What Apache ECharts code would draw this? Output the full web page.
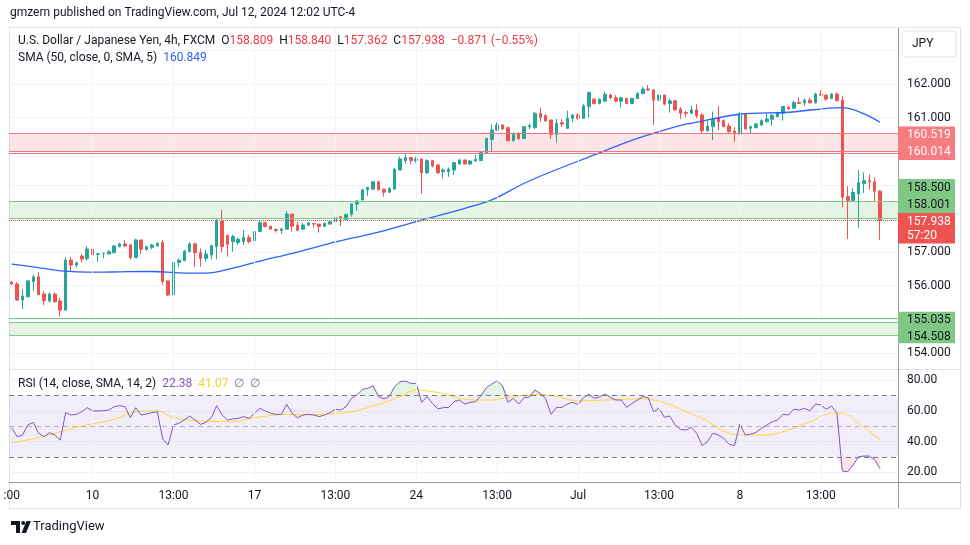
<!DOCTYPE html>
<html><head><meta charset="utf-8">
<script src="https://cdn.jsdelivr.net/npm/echarts@6/dist/echarts.min.js"></script>
<style>html,body{margin:0;padding:0;background:#fff}#c{width:970px;height:545px}</style>
</head><body><div id="c"></div>
<script>
// ---- data ----
const opens = [156.10,156.05,155.57,155.67,156.12,156.26,155.75,155.55,155.75,155.54,
155.27,156.76,156.61,156.88,156.81,157.09,156.93,156.95,156.94,156.98,
157.16,157.24,157.21,156.83,157.36,157.08,157.14,157.18,157.28,156.14,
155.72,156.69,156.74,157.01,157.24,156.98,156.81,156.91,157.16,157.92,
157.49,157.31,157.28,157.31,157.43,157.34,157.61,157.87,157.77,157.67,
157.64,157.68,158.13,157.80,157.68,157.80,157.85,157.83,157.76,157.83,
157.90,158.05,157.97,158.12,158.43,158.55,158.85,158.87,159.09,158.87,
158.78,158.87,159.44,159.72,159.81,159.72,159.77,159.36,159.72,159.59,
159.39,159.39,159.44,159.62,159.74,159.62,159.71,159.72,159.96,160.35,
160.63,160.78,160.70,160.31,160.53,160.38,160.73,160.70,161.13,161.06,
160.93,160.50,160.85,160.68,160.98,161.08,160.98,161.33,161.55,161.42,
161.49,161.67,161.59,161.49,161.57,161.42,161.57,161.72,161.85,161.82,
161.52,161.67,161.42,161.50,161.25,161.15,161.13,161.23,161.08,160.61,
160.73,160.98,160.91,160.75,160.60,160.51,161.11,160.68,160.70,160.78,
160.88,160.95,161.03,161.13,161.31,161.28,161.45,161.44,161.52,161.44,
161.70,161.67,161.57,161.70,161.52,158.65,158.53,158.73,159.04,159.12,
159.09,158.809];
const highs = [156.14,156.10,155.89,156.16,156.32,156.40,155.82,155.80,155.80,155.64,
156.84,156.86,156.71,156.94,157.18,157.16,156.96,156.98,157.06,157.21,
157.28,157.36,157.24,157.39,157.36,157.18,157.24,157.29,157.36,156.14,
156.88,156.81,157.06,157.29,157.28,157.11,157.06,157.21,157.98,158.25,
157.53,157.51,157.43,157.65,157.51,157.66,157.93,157.90,157.78,157.70,
157.70,158.22,158.13,157.90,157.87,157.89,157.85,157.83,157.87,157.92,
158.10,158.08,158.13,158.45,158.55,158.87,158.94,159.11,159.12,158.89,
158.94,159.49,159.84,159.92,159.81,159.84,159.79,159.76,159.74,159.62,
159.49,159.52,159.69,159.76,159.74,159.74,159.89,159.99,160.40,160.80,
160.86,160.81,160.73,160.56,160.56,160.75,160.83,161.16,161.30,161.10,
160.93,160.96,160.95,161.21,161.10,161.13,161.40,161.77,161.59,161.57,
161.77,161.72,161.67,161.62,161.59,161.59,161.75,161.92,161.97,161.85,
161.69,161.69,161.57,161.52,161.31,161.20,161.35,161.40,161.13,160.91,
161.18,161.35,160.95,160.83,160.71,161.15,161.11,160.76,160.85,160.95,
161.13,161.11,161.18,161.35,161.35,161.50,161.60,161.57,161.60,161.74,
161.82,161.67,161.72,161.75,161.64,158.96,158.90,159.44,159.37,159.31,
159.22,158.840];
const lows = [156.02,155.54,155.30,155.65,155.84,155.72,155.42,155.49,155.49,155.08,
155.26,156.42,156.54,156.69,156.74,156.86,156.71,156.81,156.93,156.96,
157.14,157.16,156.78,156.83,156.93,157.04,157.08,157.16,156.02,155.69,
155.72,156.56,156.74,157.01,156.56,156.56,156.71,156.78,156.78,156.99,
156.86,157.01,157.21,157.21,157.26,157.13,157.59,157.73,157.67,157.58,
157.53,157.68,157.61,157.61,157.66,157.77,157.73,157.58,157.74,157.81,
157.90,157.77,157.95,158.05,158.23,158.53,158.67,158.85,158.85,158.65,
158.75,158.87,159.44,159.62,159.62,159.66,158.73,159.32,159.52,159.32,
159.19,159.24,159.29,159.59,159.62,159.59,159.69,159.72,159.92,160.00,
160.60,160.63,160.30,160.30,160.33,160.36,160.66,160.66,160.88,160.88,
160.36,160.25,160.73,160.66,160.86,160.93,160.96,161.01,161.39,161.39,
161.47,161.55,161.47,161.30,161.42,161.40,161.55,161.69,161.79,160.78,
161.49,161.37,161.15,161.21,160.96,161.01,161.11,160.98,160.53,160.58,
160.33,160.63,160.73,160.55,160.28,160.51,160.66,160.51,160.68,160.75,
160.85,160.76,161.01,160.91,161.23,161.26,161.40,161.35,161.42,161.42,
161.64,161.50,161.55,161.50,158.33,157.39,158.50,157.72,158.75,158.85,
158.50,157.362];
const closes = [156.05,155.57,155.69,156.14,156.26,155.73,155.55,155.75,155.52,155.27,
156.76,156.61,156.68,156.79,157.09,156.91,156.95,156.96,157.01,157.18,
157.24,157.18,156.83,157.36,157.08,157.16,157.21,157.26,156.12,155.72,
156.69,156.76,157.03,157.24,156.98,156.81,156.94,157.19,157.93,157.16,
157.23,157.46,157.38,157.43,157.31,157.61,157.87,157.76,157.68,157.64,
157.69,158.13,157.77,157.65,157.80,157.87,157.83,157.76,157.85,157.90,
158.03,158.03,158.12,158.43,158.52,158.85,158.92,159.09,158.85,158.78,
158.89,159.47,159.77,159.81,159.72,159.77,159.36,159.72,159.56,159.36,
159.44,159.47,159.66,159.74,159.62,159.71,159.76,159.96,160.38,160.63,
160.78,160.66,160.31,160.53,160.38,160.73,160.76,161.13,161.01,160.90,
160.50,160.83,160.81,160.98,161.08,160.98,161.35,161.75,161.42,161.55,
161.69,161.59,161.49,161.59,161.42,161.57,161.72,161.85,161.82,161.52,
161.67,161.40,161.50,161.23,161.13,161.13,161.23,161.06,160.61,160.75,
160.96,160.88,160.73,160.58,160.51,161.13,160.66,160.73,160.81,160.91,
160.96,161.06,161.15,161.33,161.26,161.45,161.42,161.52,161.44,161.70,
161.67,161.55,161.70,161.50,158.63,158.53,158.77,159.06,159.12,159.09,
158.81,157.938];
// SMA(50) line, read at selected candles (1-based index)
const smaAt  = [1,5,10,17,21,27,32,37,42,47,53,60,64,69,77,85,90,97,109,117,125,127,136,145,155,162];
const smaVal = [156.64,156.56,156.44,156.40,156.41,156.42,156.38,156.37,156.52,156.73,156.96,157.26,157.41,157.59,157.95,158.30,158.55,159.12,159.89,160.38,160.77,160.83,161.10,161.16,161.30,160.86];
// RSI values per candle
const rsi = [49.0,43.2,44.3,50.8,52.5,45.4,43.2,45.8,44.3,41.0,
58.8,57.3,57.7,59.4,62.0,59.9,59.9,60.1,60.5,62.7,
63.3,62.7,55.5,62.0,57.3,57.9,58.8,59.4,41.7,37.8,
50.8,51.9,54.0,56.6,54.0,51.2,52.5,55.5,63.3,57.3,
54.0,54.7,55.1,56.2,55.1,58.4,61.6,59.9,58.4,57.7,
57.7,64.2,58.4,55.5,57.3,57.7,57.3,56.2,57.3,58.8,
61.0,60.5,62.7,68.1,70.3,73.9,74.6,76.3,69.2,67.7,
69.2,75.7,78.9,79.3,77.8,77.8,65.5,69.2,64.8,61.2,
62.0,62.2,65.9,67.0,64.4,65.5,65.9,69.8,75.0,77.4,
79.4,76.3,65.5,68.1,64.4,68.5,69.0,73.5,71.3,67.7,
57.7,62.2,62.2,64.4,65.5,64.2,68.5,70.7,68.1,69.0,
70.9,68.7,67.0,67.0,62.2,64.8,67.0,69.2,68.5,59.4,
61.6,55.8,56.6,50.8,47.9,47.5,49.3,45.4,37.4,40.0,
45.4,44.3,42.1,38.2,37.4,51.4,44.3,44.9,46.0,48.6,
50.8,52.9,54.0,57.7,57.3,61.0,60.5,61.6,59.9,64.4,
63.8,61.0,63.1,58.4,20.9,20.5,24.8,30.2,30.6,30.6,
28.1,22.38];
// RSI-based SMA, read at selected candles (1-based index)
const rsiMaAt  = [1,5,10,15,20,24,28,31,36,42,46,52,55,61,64,69,73,76,79,81,84,87,90,93,99,102,106,111,118,123,126,129,134,137,141,145,149,153,155,158,162];
const rsiMaVal = [39.5,41.7,46.4,50.8,54.5,59.4,59.9,55.5,53.4,52.9,55.5,57.7,57.3,58.4,59.4,64.2,69.2,73.5,72.4,71.3,68.1,67.0,67.0,68.7,70.7,69.2,66.4,67.0,67.7,64.2,59.4,55.1,45.4,44.3,44.3,47.5,52.9,58.4,58.4,51.9,41.07];
// time axis tick labels (0-based candle index)
const tickIdx  = [0,15,30,45,60,75,90,105,120,135,150];
const tickText = [':00','10','13:00','17','13:00','24','13:00','Jul','13:00','8','13:00'];
const priceLabels = [154,156,157,161,162];
const rsiLabels = [20,40,60,80];
const zoneRed = [160.519,160.014];
const zoneGreen = [158.500,158.001];
const zoneGreen2 = [155.035,154.508];
const lastPrice = 157.938;

// ---- build ----
const N = opens.length, NCAT = 165;
const cats = Array.from({length:NCAT},(_,i)=>String(i));
const FONT = 'Roboto, "Noto Sans", sans-serif';
const candles = opens.map((o,i)=>[o, closes[i], lows[i], highs[i]]);
const sparse = (at, val) => { const a = new Array(N).fill(null); at.forEach((k,j)=>{a[k-1]=val[j];}); return a; };
const smaData = sparse(smaAt, smaVal);
const rsiMaData = sparse(rsiMaAt, rsiMaVal);
const tickMap = {}; tickIdx.forEach((k,j)=>tickMap[k]=tickText[j]);
const vGrid = tickIdx.filter(k=>k>0).map(k=>({xAxis:cats[k], lineStyle:{color:'#f0f3fa',width:1,type:'solid'}}));
const hl = (v,c,t)=>({yAxis:v, lineStyle:{color:c,width:1,type:t||'solid'}});

const chart = echarts.init(document.getElementById('c'), null, {renderer:'canvas'});
const txt = (x,y,s,fill,extra)=>Object.assign({type:'text', x:x, y:y, silent:true, style:{text:s, fill:fill, font:'12px '+FONT, textVerticalAlign:'middle', verticalAlign:'middle'}}, extra||{});
const rich = {
  t:{color:'#131722',fontSize:12,fontFamily:FONT},
  r:{color:'#f23645',fontSize:12,fontFamily:FONT},
  b:{color:'#2962ff',fontSize:12,fontFamily:FONT},
  p:{color:'#7e57c2',fontSize:12,fontFamily:FONT},
  y:{color:'#f2d22e',fontSize:12,fontFamily:FONT},
  g:{color:'#787b86',fontSize:12,fontFamily:FONT}
};
chart.setOption({
  animation:false,
  backgroundColor:'#ffffff',
  title:[
    {text:'gmzern published on TradingView.com, Jul 12, 2024 12:02 UTC-4', left:10, top:7, padding:0, textStyle:{fontSize:12,fontWeight:'normal',color:'#131722',fontFamily:FONT}},
    {text:'{t|U.S. Dollar / Japanese Yen, 4h, FXCM}  {t|O}{r|158.809}  {t|H}{r|158.840}  {t|L}{r|157.362}  {t|C}{r|157.938}  {r|−0.871 (−0.55%)}', left:18, top:35, padding:0, textStyle:{fontSize:12,fontWeight:'normal',fontFamily:FONT,rich:rich}},
    {text:'{t|SMA (50, close, 0, SMA, 5)}  {b|160.849}', left:18, top:52, padding:0, textStyle:{fontSize:12,fontWeight:'normal',fontFamily:FONT,rich:rich}},
    {text:'{t|RSI (14, close, SMA, 14, 2)}  {p|22.38}  {y|41.07}  {g|∅}  {g|∅}', left:18, top:378, padding:0, textStyle:{fontSize:12,fontWeight:'normal',fontFamily:FONT,rich:rich}},
    {text:'TradingView', left:33, top:520, padding:0, textStyle:{fontSize:13,fontWeight:'normal',color:'#131722',fontFamily:FONT}}
  ],
  grid:[
    {left:9, right:71, top:28, height:342},
    {left:9, right:71, top:370, height:112}
  ],
  xAxis:[
    {type:'category', gridIndex:0, data:cats, boundaryGap:true, axisLine:{show:false}, axisTick:{show:false}, axisLabel:{show:false}, splitLine:{show:false}},
    {type:'category', gridIndex:1, data:cats, boundaryGap:true, axisLine:{show:false}, axisTick:{show:false}, splitLine:{show:false},
     axisLabel:{show:true, interval:0, hideOverlap:false, margin:8, color:'#131722', fontSize:12, fontFamily:FONT, formatter:(v,i)=>tickMap[i]||''}}
  ],
  yAxis:[
    {type:'value', gridIndex:0, position:'right', min:153.488, max:163.667, splitNumber:10, minInterval:1, maxInterval:1, scale:true,
     axisLine:{show:false}, axisTick:{show:false},
     axisLabel:{margin:8, color:'#131722', fontSize:12, fontFamily:FONT, formatter:v=>{const r=Math.round(v); return (Math.abs(v-r)<1e-6 && priceLabels.includes(r)) ? r.toFixed(3) : '';}},
     splitLine:{show:true, showMinLine:false, showMaxLine:false, lineStyle:{color:'#f0f3fa', width:1}}},
    {type:'value', gridIndex:1, position:'right', min:13.77, max:86.49, splitNumber:4, minInterval:20, maxInterval:20,
     axisLine:{show:false}, axisTick:{show:false},
     axisLabel:{margin:8, color:'#131722', fontSize:12, fontFamily:FONT, formatter:v=>{const r=Math.round(v); return (Math.abs(v-r)<1e-6 && rsiLabels.includes(r)) ? r.toFixed(2) : '';}},
     splitLine:{show:true, showMinLine:false, showMaxLine:false, lineStyle:{color:'#f0f3fa', width:1}}}
  ],
  series:[
    {name:'bgPrice', type:'line', xAxisIndex:0, yAxisIndex:0, data:closes, showSymbol:false, silent:true, z:1, lineStyle:{opacity:0},
     markArea:{silent:true, data:[
       [{yAxis:zoneRed[0], itemStyle:{color:'rgba(242,54,69,0.13)'}},{yAxis:zoneRed[1]}],
       [{yAxis:zoneGreen[0], itemStyle:{color:'rgba(76,175,80,0.14)'}},{yAxis:zoneGreen[1]}],
       [{yAxis:154.92, itemStyle:{color:'rgba(76,175,80,0.14)'}},{yAxis:zoneGreen2[1]}]
     ]},
     markLine:{silent:true, symbol:['none','none'], label:{show:false}, data:[
       ...vGrid,
       hl(zoneRed[0],'#f0787d'), hl(zoneRed[1],'#f0787d'), hl(159.94,'#f0787d'),
       hl(zoneGreen[0],'#81c784'), hl(zoneGreen[1],'#81c784'),
       hl(zoneGreen2[0],'#81c784'), hl(154.92,'#81c784'), hl(zoneGreen2[1],'#81c784')
     ]}},
    {name:'USDJPY', type:'candlestick', xAxisIndex:0, yAxisIndex:0, data:candles, barWidth:3, z:3,
     itemStyle:{color:'#26a69a', color0:'#ef5350', borderColor:'#26a69a', borderColor0:'#ef5350', borderWidth:1},
     markLine:{silent:true, symbol:['none','none'], label:{show:false}, data:[hl(lastPrice,'#ef5350','dotted')]}},
    {name:'SMA', type:'line', xAxisIndex:0, yAxisIndex:0, data:smaData, connectNulls:true, smooth:0.35, showSymbol:false, z:4,
     lineStyle:{color:'#2962ff', width:1.3}},
    {name:'bgRsi', type:'line', xAxisIndex:1, yAxisIndex:1, data:rsi, showSymbol:false, silent:true, z:1, lineStyle:{opacity:0},
     markArea:{silent:true, data:[[{yAxis:30, itemStyle:{color:'rgba(126,87,194,0.1)'}},{yAxis:70}]]},
     markLine:{silent:true, symbol:['none','none'], label:{show:false}, data:[
       ...vGrid,
       {yAxis:70, lineStyle:{color:'#787b86',width:1,type:[5,4]}},
       {yAxis:50, lineStyle:{color:'rgba(120,123,134,0.5)',width:1,type:[5,4]}},
       {yAxis:30, lineStyle:{color:'#787b86',width:1,type:[5,4]}}
     ]}},
    {name:'obBase', type:'line', xAxisIndex:1, yAxisIndex:1, stack:'ob', data:rsi.map(()=>70), showSymbol:false, silent:true, z:2, lineStyle:{opacity:0}},
    {name:'obFill', type:'line', xAxisIndex:1, yAxisIndex:1, stack:'ob', data:rsi.map(v=>Math.max(0,v-70)), showSymbol:false, silent:true, z:2, lineStyle:{opacity:0}, areaStyle:{color:'rgba(76,175,80,0.22)'}},
    {name:'osBase', type:'line', xAxisIndex:1, yAxisIndex:1, stack:'os', data:rsi.map(v=>Math.min(v,30)), showSymbol:false, silent:true, z:2, lineStyle:{opacity:0}},
    {name:'osFill', type:'line', xAxisIndex:1, yAxisIndex:1, stack:'os', data:rsi.map(v=>30-Math.min(v,30)), showSymbol:false, silent:true, z:2, lineStyle:{opacity:0}, areaStyle:{color:'rgba(242,54,69,0.2)'}},
    {name:'RSI', type:'line', xAxisIndex:1, yAxisIndex:1, data:rsi, showSymbol:false, z:4, lineStyle:{color:'#7e57c2', width:1}},
    {name:'RSI MA', type:'line', xAxisIndex:1, yAxisIndex:1, data:rsiMaData, connectNulls:true, smooth:0.35, showSymbol:false, z:3, lineStyle:{color:'#fdd835', width:1}}
  ],
  graphic:[
    {type:'rect', silent:true, z:0, shape:{x:9.5, y:27.5, width:951, height:481}, style:{fill:'none', stroke:'#e0e3eb', lineWidth:1}},
    {type:'line', silent:true, z:5, shape:{x1:9, y1:369.5, x2:961, y2:369.5}, style:{stroke:'#e0e3eb', lineWidth:1}},
    {type:'line', silent:true, z:5, shape:{x1:9, y1:482.5, x2:961, y2:482.5}, style:{stroke:'#9598a1', lineWidth:1}},
    {type:'line', silent:true, z:5, shape:{x1:898.5, y1:28, x2:898.5, y2:508}, style:{stroke:'#9598a1', lineWidth:1}},
    // JPY button
    {type:'rect', silent:true, z:5, shape:{x:902, y:31, width:54, height:26, r:4}, style:{fill:'#fff', stroke:'#e0e3eb', lineWidth:1}},
    txt(912,44,'JPY','#131722',{z:6}),
    // price tags
    {type:'rect', silent:true, z:5, shape:{x:898, y:126.5, width:57, height:33.5}, style:{fill:'#f77c80'}},
    txt(907,134.5,'160.519','#ffffff',{z:6}),
    txt(907,151.5,'160.014','#ffffff',{z:6}),
    {type:'rect', silent:true, z:5, shape:{x:898, y:179, width:57, height:34}, style:{fill:'#81c784'}},
    txt(907,188,'158.500','#131722',{z:6}),
    txt(907,205,'158.001','#131722',{z:6}),
    {type:'rect', silent:true, z:5, shape:{x:898, y:213, width:57, height:30.5}, style:{fill:'#ef5350'}},
    txt(907,221.7,'157.938','#ffffff',{z:6}),
    txt(907,235.7,'57:20','#ffffff',{z:6}),
    {type:'rect', silent:true, z:5, shape:{x:898, y:311.7, width:57, height:31.6}, style:{fill:'#81c784'}},
    txt(907,320,'155.035','#131722',{z:6}),
    txt(907,337.3,'154.508','#131722',{z:6}),
    // TradingView logo
    {type:'polygon', silent:true, z:5, shape:{points:[[11,521],[20,521],[20,533],[16,533],[16,525],[11,525]]}, style:{fill:'#131722'}},
    {type:'circle', silent:true, z:5, shape:{cx:23.2, cy:523, r:2}, style:{fill:'#131722'}},
    {type:'polygon', silent:true, z:5, shape:{points:[[26.5,521],[31,521],[26,533],[21.5,533]]}, style:{fill:'#131722'}}
  ]
});
</script></body></html>
